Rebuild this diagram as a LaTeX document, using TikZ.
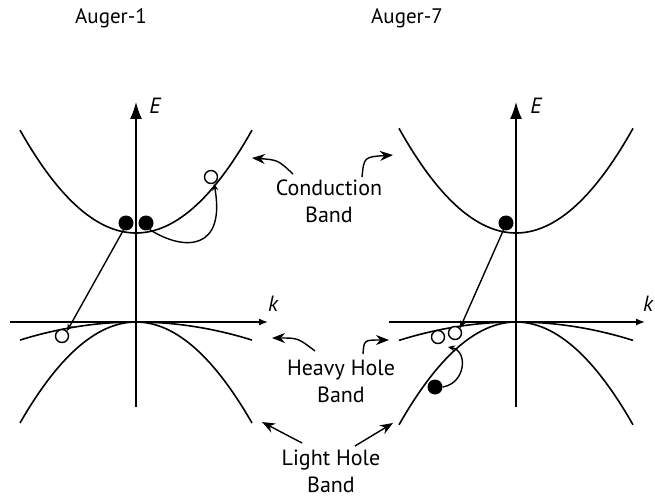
\documentclass[tikz,border=0pt]{standalone}
\usepackage{fontspec}
\setmainfont{PT Sans}
\usetikzlibrary{arrows.meta}
\tikzset{
  band/.style={line width=1.6pt},
  axis/.style={line width=1.4pt,-{Latex[length=17pt,width=12pt]}},
  elec/.style={circle,fill=black,inner sep=0pt,minimum size=15pt},
  hole/.style={circle,draw=black,line width=1.4pt,fill=white,inner sep=0pt,minimum size=13pt},
  trans/.style={line width=1.4pt,-{Stealth[length=7pt,width=6pt]}},
  pointer/.style={line width=1.4pt,-{Stealth[length=13pt,width=10pt]}},
  lbl/.style={align=center,font=\fontsize{22}{27}\selectfont}
}
\begin{document}
\begin{tikzpicture}[x=1pt,y=-1pt]
      \useasboundingbox (0,0) rectangle (655,502);
      % titles
      \node[lbl,font=\fontsize{21}{27}\selectfont] at (111,18) (t1) {Auger-1};
      \node[lbl,font=\fontsize{21}{27}\selectfont] at (407,18) (t7) {Auger-7};

      % left panel: axes
      \coordinate (eb1) at (136,407);
      \coordinate (et1) at (136,102);
      \coordinate (kl1) at (10,322);
      \coordinate (kr1) at (268,322);
      \draw[axis] (eb1) -- (et1);
      \draw[axis,-{Latex[length=9pt,width=7pt]}] (kl1) -- (kr1);
      \node[lbl,font=\fontsize{22}{27}\selectfont\itshape] at (155,106) (E1) {E};
      \node[lbl,font=\fontsize{22}{27}\selectfont\itshape] at (273,304) (k1) {k};

      % left panel: bands
      \draw[band] plot[domain=20:252,samples=60] ({\x},{233-0.00765*(\x-136)^2});
      \draw[band] plot[domain=20:252,samples=60] ({\x},{322+0.001338*(\x-136)^2});
      \draw[band] plot[domain=20:252,samples=60] ({\x},{322+0.0075*(\x-136)^2});

      % right panel: axes
      \coordinate (eb7) at (516,407);
      \coordinate (et7) at (516,102);
      \coordinate (kl7) at (389,322);
      \coordinate (kr7) at (645,322);
      \draw[axis] (eb7) -- (et7);
      \draw[axis,-{Latex[length=9pt,width=7pt]}] (kl7) -- (kr7);
      \node[lbl,font=\fontsize{22}{27}\selectfont\itshape] at (536,106) (E7) {E};
      \node[lbl,font=\fontsize{22}{27}\selectfont\itshape] at (648,304) (k7) {k};

      % right panel: bands
      \draw[band] plot[domain=399:633,samples=60] ({\x},{233-0.00765*(\x-516)^2});
      \draw[band] plot[domain=399:633,samples=60] ({\x},{322+0.001338*(\x-516)^2});
      \draw[band] plot[domain=399:633,samples=60] ({\x},{322+0.0075*(\x-516)^2});

      % carriers, Auger-1
      \node[elec] at (126,223) (e1) {};
      \node[elec] at (146,223) (e2) {};
      \node[hole] at (211,177) (h2) {};
      \node[hole] at (62,336) (h1) {};
      \draw[trans] (e1.250) -- (h1.45);
      \draw[trans] (e2.300) .. controls (185,252) and (226,250) .. (h2.-65);

      % carriers, Auger-7
      \node[elec] at (506,223) (e3) {};
      \node[hole] at (438,337) (h3) {};
      \node[hole] at (455,333) (h4) {};
      \node[elec] at (435,387) (e4) {};
      \coordinate (h7end) at (448,347);
      \draw[trans] (e3.250) -- (h4.45);
      \draw[trans] (e4.east) .. controls (466,383) and (468,351) .. (h7end);

      % labels and pointers
      \node[lbl] at (329,201) (cb) {Conduction\\Band};
      \node[lbl] at (341,381) (hh) {Heavy Hole\\Band};
      \node[lbl] at (331,471) (lh) {Light Hole\\Band};

      \coordinate (cbL) at (293,174);
      \coordinate (cbLt) at (252,158);
      \coordinate (cbR) at (362,177);
      \coordinate (cbRt) at (393,155);
      \draw[pointer] (cbL) .. controls (278,160) .. (cbLt);
      \draw[pointer] (cbR) .. controls (364,157) .. (cbRt);

      \coordinate (hhL) at (315,351);
      \coordinate (hhLt) at (272,338);
      \coordinate (hhR) at (363,354);
      \coordinate (hhRt) at (389,340);
      \draw[pointer] (hhL) .. controls (298,338) .. (hhLt);
      \draw[pointer] (hhR) .. controls (364,340) .. (hhRt);

      \coordinate (lhL) at (302,443);
      \coordinate (lhLt) at (262,422);
      \coordinate (lhR) at (355,446);
      \coordinate (lhRt) at (393,423);
      \draw[pointer] (lhL) -- (lhLt);
      \draw[pointer] (lhR) -- (lhRt);
\end{tikzpicture}
\end{document}
